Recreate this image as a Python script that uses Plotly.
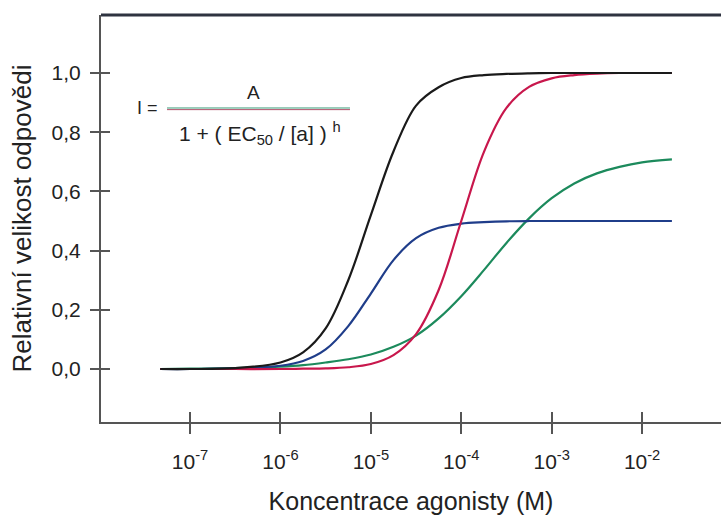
import plotly.graph_objects as go

# log10 of agonist concentration (M)
log_conc = [-7.33, -7.0, -6.5, -6.0, -5.75, -5.5, -5.25, -5.0, -4.75, -4.5, -4.25,
            -4.0, -3.75, -3.5, -3.25, -3.0, -2.75, -2.5, -2.25, -2.0, -1.67]

black = [0.0, 0.0, 0.003, 0.022, 0.056, 0.137, 0.300, 0.520, 0.735, 0.890, 0.952,
         0.983, 0.993, 0.997, 0.999, 1.0, 1.0, 1.0, 1.0, 1.0, 1.0]
blue = [0.0, 0.0, 0.002, 0.011, 0.027, 0.066, 0.145, 0.255, 0.368, 0.442, 0.477,
        0.491, 0.496, 0.499, 0.5, 0.5, 0.5, 0.5, 0.5, 0.5, 0.5]
red = [0.0, 0.0, 0.0, 0.0, 0.001, 0.002, 0.006, 0.017, 0.047, 0.118, 0.267,
       0.500, 0.733, 0.882, 0.953, 0.982, 0.993, 0.998, 1.0, 1.0, 1.0]
green = [0.0, 0.001, 0.003, 0.008, 0.013, 0.022, 0.033, 0.049, 0.075, 0.113, 0.171,
         0.246, 0.334, 0.426, 0.509, 0.577, 0.627, 0.661, 0.683, 0.698, 0.708]

x_tick_exps = [-7, -6, -5, -4, -3, -2]
x_tick_text = ["10<sup>-7</sup>", "10<sup>-6</sup>", "10<sup>-5</sup>",
               "10<sup>-4</sup>", "10<sup>-3</sup>", "10<sup>-2</sup>"]
y_tick_vals = [0.0, 0.2, 0.4, 0.6, 0.8, 1.0]

conc = [10 ** e for e in log_conc]

FONT = "Liberation Sans, Arial, sans-serif"
AXC = "#555555"
FS = 21

fig = go.Figure()
series = [("green", green, "#1c8a5c"), ("blue", blue, "#1f3d8a"),
          ("red", red, "#c8174c"), ("black", black, "#1a1a1a")]
for name, vals, col in series:
    fig.add_trace(go.Scatter(x=conc, y=vals, mode="lines", name=name,
                             line=dict(color=col, width=2.2, shape="spline", smoothing=1.0),
                             showlegend=False, hoverinfo="skip"))

tickvals_x = [10 ** e for e in x_tick_exps]

fig.update_layout(
    width=721, height=515,
    margin=dict(l=101, r=0, t=15, b=93),
    paper_bgcolor="white", plot_bgcolor="white",
    separators=", ",
    font=dict(family=FONT, size=FS, color="#222222"),
    xaxis=dict(type="log", range=[-7.985, -1.127], showgrid=False, zeroline=False,
               automargin=False,
               showline=True, linecolor=AXC, linewidth=2,
               tickvals=tickvals_x, ticktext=x_tick_text,
               ticks="outside", ticklen=10, tickwidth=2, tickcolor=AXC,
               tickfont=dict(size=FS), ticklabelstandoff=10,
               title=dict(text="Koncentrace agonisty (M)", font=dict(size=25), standoff=20)),
    yaxis=dict(range=[-0.179, 1.196], showgrid=False, zeroline=False,
               automargin=False,
               showline=True, linecolor=AXC, linewidth=2,
               tickvals=y_tick_vals, tickformat=".1f",
               ticks="outside", ticklen=9, tickwidth=2, tickcolor=AXC,
               tickfont=dict(size=FS), ticklabelstandoff=5,
               title=dict(text="Relativní velikost odpovědi", font=dict(size=26), standoff=12)),
    xaxis2=dict(type="log", overlaying="x", matches="x", range=[-7.985, -1.127],
                side="bottom", showgrid=False, zeroline=False, showline=False,
                automargin=False,
                tickvals=tickvals_x, showticklabels=False,
                ticks="inside", ticklen=10, tickwidth=2, tickcolor=AXC),
    yaxis2=dict(overlaying="y", matches="y", range=[-0.179, 1.196],
                side="left", showgrid=False, zeroline=False, showline=False,
                automargin=False,
                tickvals=y_tick_vals, showticklabels=False,
                ticks="inside", ticklen=9, tickwidth=2, tickcolor=AXC),
)

# invisible trace to activate the overlay axes
fig.add_trace(go.Scatter(x=[conc[0]], y=[0], xaxis="x2", yaxis="y2", mode="markers",
                         marker=dict(opacity=0), showlegend=False, hoverinfo="skip"))

# top border of the frame
fig.add_shape(type="line", xref="paper", yref="paper", x0=0, x1=1, y0=1, y1=1,
              line=dict(color="#2e3340", width=3))

# formula
fig.add_shape(type="line", xref="paper", yref="paper", x0=0.1065, x1=0.4016,
              y0=0.7715, y1=0.7715, line=dict(color="#3a9a78", width=1))
fig.add_shape(type="line", xref="paper", yref="paper", x0=0.1065, x1=0.4016,
              y0=0.7675, y1=0.7675, line=dict(color="#b0506a", width=1))
fig.add_annotation(xref="paper", yref="paper", x=0.0758, y=0.7715, text="I =",
                   showarrow=False, font=dict(size=18), xanchor="center", yanchor="middle")
fig.add_annotation(xref="paper", yref="paper", x=0.2452, y=0.8084, text="A",
                   showarrow=False, font=dict(size=19), xanchor="center", yanchor="middle")
fig.add_annotation(xref="paper", yref="paper", x=0.2565, y=0.708,
                   text="1 + ( EC<sub>50</sub> / [a] ) <sup>h</sup>",
                   showarrow=False, font=dict(size=21), xanchor="center", yanchor="middle")

fig.write_html("out.html", config={"displayModeBar": False},
               post_script="document.body.style.margin='0';document.body.style.overflow='hidden';")
